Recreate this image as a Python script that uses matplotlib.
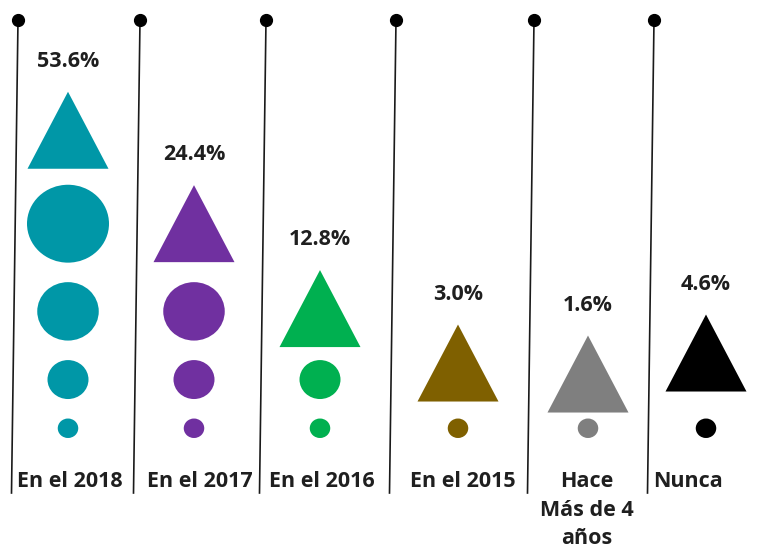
import matplotlib.pyplot as plt
from matplotlib.patches import Ellipse, Polygon

# data
categories = ['En el 2018', 'En el 2017', 'En el 2016', 'En el 2015', 'Hace\nMás de 4\naños', 'Nunca']
percent = [53.6, 24.4, 12.8, 3.0, 1.6, 4.6]
circle_count = [4, 3, 2, 1, 1, 1]
colors = ['#0097A7', '#7030A0', '#00B050', '#7F6000', '#7F7F7F', '#000000']

# layout, in pixels
col_x = [68, 194, 320, 458, 588, 706]
label_x = [70, 200, 322, 463, 587, 688]
sep_top_x = [18, 140, 266, 396, 534, 654]
sep_slant = 6.5
line_top, line_bot = 20, 493
base_y = 438          # bottom of the smallest circle
circle_step = 20.5    # diameter grows by this for every circle in the stack
circle_gap = 19.5
tri_w, tri_h = 81, 77
tri_gap = [16, 20, 13, 17, 6, 27]

plt.rcParams['font.family'] = ['Open Sans', 'DejaVu Sans']

fig = plt.figure(figsize=(7.72, 5.48), dpi=100)
ax = fig.add_axes([0, 0, 1, 1])
ax.set_xlim(0, 772)
ax.set_ylim(548, 0)
ax.axis('off')

txt = dict(fontsize=15.5, fontweight='bold', color='#1f1f1f')

for i, (cat, val, n, col) in enumerate(zip(categories, percent, circle_count, colors)):
    x = col_x[i]
    # slanted separator with a dot on top
    sx = sep_top_x[i]
    ax.plot([sx, sx - sep_slant], [line_top, line_bot], color='#1a1a1a', lw=1.2, zorder=1)
    ax.plot(sx, line_top, 'o', color='black', ms=8.5, zorder=2)

    # stack of circles, smallest at the bottom
    bottom = base_y
    for k in range(1, n + 1):
        d = circle_step * k
        h = d * 0.95
        ax.add_patch(Ellipse((x, bottom - h / 2), d, h, color=col, lw=0))
        bottom = bottom - h - circle_gap
    top = bottom + circle_gap

    # triangle on top of the stack
    tb = top - tri_gap[i]
    ax.add_patch(Polygon([(x - tri_w / 2, tb), (x + tri_w / 2, tb), (x, tb - tri_h)],
                         closed=True, color=col, lw=0))

    ax.text(x, tb - tri_h - 25, f'{val:.1f}%', ha='center', va='baseline', **txt)
    for j, line in enumerate(cat.split('\n')):
        ax.text(label_x[i], 487 + j * 28.5, line, ha='center', va='baseline', **txt)

fig.savefig('out.png', dpi=100)
